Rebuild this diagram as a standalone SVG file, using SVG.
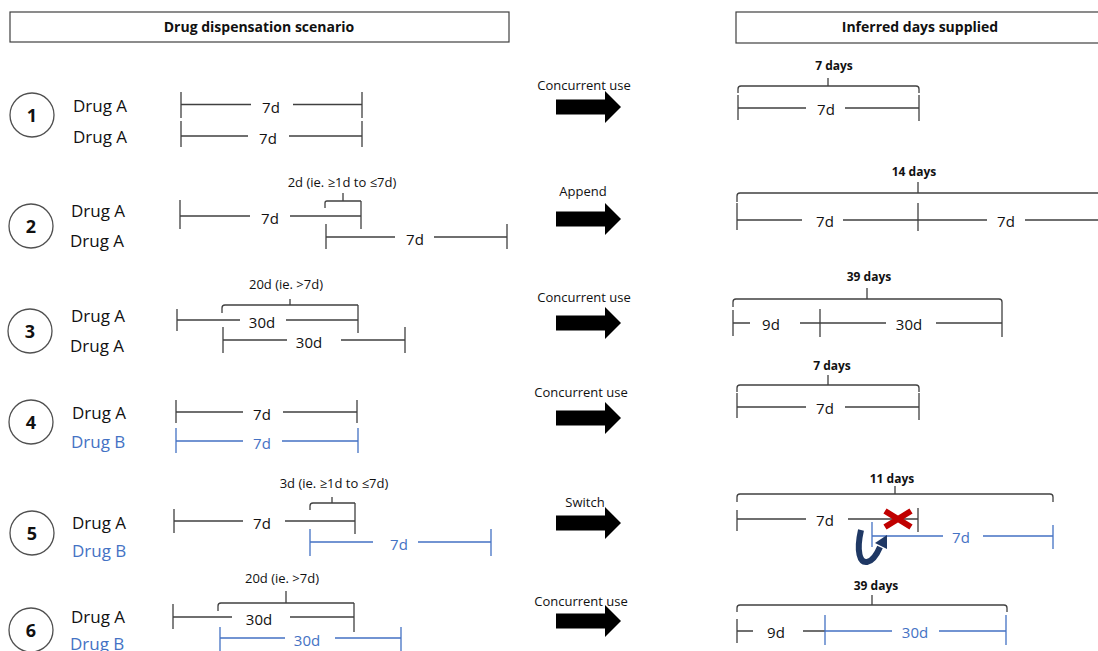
<svg xmlns="http://www.w3.org/2000/svg" width="1098" height="651" viewBox="0 0 1098 651">
<style>
text{font-family:"Open Sans","Liberation Sans",sans-serif;fill:#111}
.hd{font-size:14px;font-weight:bold;text-anchor:middle}
.dr{font-size:17px}
.bl{fill:#4472C4}
.d{font-size:15px;text-anchor:middle}
.br{font-size:13px;text-anchor:middle}
.op{font-size:13px;text-anchor:middle}
.tot{font-size:12px;font-weight:bold;text-anchor:middle}
.num{font-size:18px;font-weight:bold;text-anchor:middle}
.ln{stroke:#404040;stroke-width:1.3;fill:none}
.lb{stroke:#4472C4;stroke-width:1.3;fill:none}
.cir{stroke:#505050;stroke-width:1.3;fill:#fff}
.box{stroke:#404040;stroke-width:1.2;fill:#fff}
</style>
<defs>
<path id="arr" d="M0 -7.5 H49 V-16 L65 0 L49 16 V7.5 H0 Z" fill="#000"/>
</defs>
<rect width="1098" height="651" fill="#fff"/>

<g id="header-left"><rect class="box" x="10" y="12" width="499" height="30"/><text class="hd" x="259" y="31.5">Drug dispensation scenario</text></g>
<g id="header-right"><rect class="box" x="736" y="12" width="400" height="31"/><text class="hd" x="920" y="32">Inferred days supplied</text></g>

<!-- Row 1 -->
<g id="row1-left">
<circle class="cir" cx="32" cy="115" r="22"/><text class="num" x="32" y="121.5">1</text>
<text class="dr" x="73" y="112">Drug A</text>
<text class="dr" x="73" y="143">Drug A</text>
<path class="ln" d="M181 92V118M362 92V118M181 104.5H251M293 104.5H362"/>
<text class="d" x="271" y="113">7d</text>
<path class="ln" d="M181 121V147M362 121V147M181 136H248M289 136H362"/>
<text class="d" x="268" y="144">7d</text>
</g>
<g id="row1-right">
<text class="tot" x="834" y="70">7 days</text>
<path class="ln" d="M738 93V89Q738 86 741 86H916Q919 86 919 89V93M828 78V86"/>
<path class="ln" d="M738 95V120M919 95V121M738 108H806M845 108H919"/>
<text class="d" x="826" y="115">7d</text>
</g>

<!-- Row 2 -->
<g id="row2-left">
<circle class="cir" cx="31" cy="226" r="22"/><text class="num" x="31" y="232.5">2</text>
<text class="dr" x="71" y="217">Drug A</text>
<text class="dr" x="70" y="247">Drug A</text>
<text class="br" x="342" y="187">2d (ie. ≥1d to ≤7d)</text>
<path class="ln" d="M325 208V203Q325 201 327 201H361M343 193V201"/>
<path class="ln" d="M180 200V229M361 201V229M180 216H250M290 216H361"/>
<text class="d" x="270" y="224">7d</text>
<path class="ln" d="M326 224V249M507 224V249M326 237H395M434 237H507"/>
<text class="d" x="415" y="245">7d</text>
</g>
<g id="row2-right">
<text class="tot" x="914" y="176">14 days</text>
<path class="ln" d="M737 202V196Q737 193 740 193H1100M918 182V193"/>
<path class="ln" d="M737 203V230M918 203V231M737 220H802M843 220H987M1025 220H1100"/>
<text class="d" x="825" y="227">7d</text>
<text class="d" x="1006" y="227">7d</text>
</g>

<!-- Row 3 -->
<g id="row3-left">
<circle class="cir" cx="30" cy="331" r="22"/><text class="num" x="30" y="337.5">3</text>
<text class="dr" x="71" y="322">Drug A</text>
<text class="dr" x="70" y="352">Drug A</text>
<text class="br" x="286" y="289">20d (ie. &gt;7d)</text>
<path class="ln" d="M222 313V308Q222 305 225 305H358M290 299V305"/>
<path class="ln" d="M177 309V331M358 305V333M177 320H240M286 320H358"/>
<text class="d" x="262" y="328">30d</text>
<path class="ln" d="M223 327V353M405 327V353M223 340H287M341 340H405"/>
<text class="d" x="309" y="348">30d</text>
</g>
<g id="row3-right">
<text class="tot" x="869" y="281">39 days</text>
<path class="ln" d="M733 307V302Q733 299 736 299H999Q1002 299 1002 302V307M867 288V299"/>
<path class="ln" d="M733 310V336M820 309V337M1002 307V337M733 323H750M800 323H886M936 323H1002"/>
<text class="d" x="771" y="330">9d</text>
<text class="d" x="909" y="330">30d</text>
</g>

<!-- Row 4 -->
<g id="row4-left">
<circle class="cir" cx="31" cy="422" r="22"/><text class="num" x="31" y="428.5">4</text>
<text class="dr" x="72" y="419">Drug A</text>
<text class="dr bl" x="71" y="448">Drug B</text>
<path class="ln" d="M176 400V423M357 400V423M176 412H243M283 412H357"/>
<text class="d" x="262" y="420">7d</text>
<path class="lb" d="M176 428V453M358 428V453M176 441H243M282 441H358"/>
<text class="d bl" x="262" y="449">7d</text>
</g>
<g id="row4-right">
<text class="tot" x="832" y="370">7 days</text>
<path class="ln" d="M737 392V388Q737 385 740 385H916Q919 385 919 388V392M828 375V385"/>
<path class="ln" d="M737 393V418M919 393V420M737 407H806M845 407H919"/>
<text class="d" x="825" y="414">7d</text>
</g>

<!-- Row 5 -->
<g id="row5-left">
<circle class="cir" cx="32" cy="533" r="22"/><text class="num" x="32" y="539.5">5</text>
<text class="dr" x="72" y="529">Drug A</text>
<text class="dr bl" x="72" y="557">Drug B</text>
<text class="br" x="334" y="488">3d (ie. ≥1d to ≤7d)</text>
<path class="ln" d="M310 510V506Q310 503 313 503H355M332 497V503"/>
<path class="ln" d="M174 509V533M355 503V534M174 521H243M285 521H355"/>
<text class="d" x="262" y="529">7d</text>
<path class="lb" d="M310 529V556M491 529V556M310 542H373M418 542H491"/>
<text class="d bl" x="399" y="550">7d</text>
</g>
<g id="row5-right">
<text class="tot" x="892" y="483">11 days</text>
<path class="ln" d="M737 502V497Q737 494 740 494H1050Q1053 494 1053 497V502M895 486V494"/>
<path class="ln" d="M737 510V531M918 508V532M737 519H806M848 519H918"/>
<text class="d" x="825" y="526">7d</text>
<path class="lb" d="M872 522V547M1053 525V549M872 536H943M983 536H1053"/>
<text class="d bl" x="961" y="543">7d</text>
<path d="M885 511L911 527M885 527L911 511" stroke="#C00000" stroke-width="6" fill="none"/>
<path d="M861 530C856 552 860 563 867 562C873 561 877 554 880 547" stroke="#1F3864" stroke-width="6" fill="none"/>
<polygon points="887,535 875,543 887,549" fill="#1F3864"/>
</g>

<!-- Row 6 -->
<g id="row6-left">
<circle class="cir" cx="31" cy="630" r="22"/><text class="num" x="31" y="636.5">6</text>
<text class="dr" x="71" y="623">Drug A</text>
<text class="dr bl" x="70" y="650">Drug B</text>
<text class="br" x="282" y="583">20d (ie. &gt;7d)</text>
<path class="ln" d="M218 611V606Q218 603 221 603H354M286 591V603"/>
<path class="ln" d="M173 604V629M354 603V632M173 617H232M290 617H354"/>
<text class="d" x="259" y="625">30d</text>
<path class="lb" d="M220 627V652M401 627V652M220 638H285M335 638H401"/>
<text class="d bl" x="307" y="646">30d</text>
</g>
<g id="row6-right">
<text class="tot" x="876" y="590">39 days</text>
<path class="ln" d="M737 612V608Q737 605 740 605H1004Q1007 605 1007 608V612M872 595V605"/>
<path class="ln" d="M737 619V643M737 631H753M803 631H825"/>
<text class="d" x="776" y="638">9d</text>
<path class="lb" d="M825 615V645M1006 615V645M825 631H892M939 631H1006"/>
<text class="d bl" x="915" y="638">30d</text>
</g>

<!-- connectors -->
<g id="connectors">
<text class="op" x="584" y="90">Concurrent use</text>
<use href="#arr" x="556" y="107"/>
<text class="op" x="583" y="196">Append</text>
<use href="#arr" x="556" y="219"/>
<text class="op" x="584" y="302">Concurrent use</text>
<use href="#arr" x="556" y="323"/>
<text class="op" x="581" y="397">Concurrent use</text>
<use href="#arr" x="556" y="418"/>
<text class="op" x="585" y="507">Switch</text>
<use href="#arr" x="556" y="523"/>
<text class="op" x="581" y="606">Concurrent use</text>
<use href="#arr" x="556" y="621"/>
</g>
</svg>
